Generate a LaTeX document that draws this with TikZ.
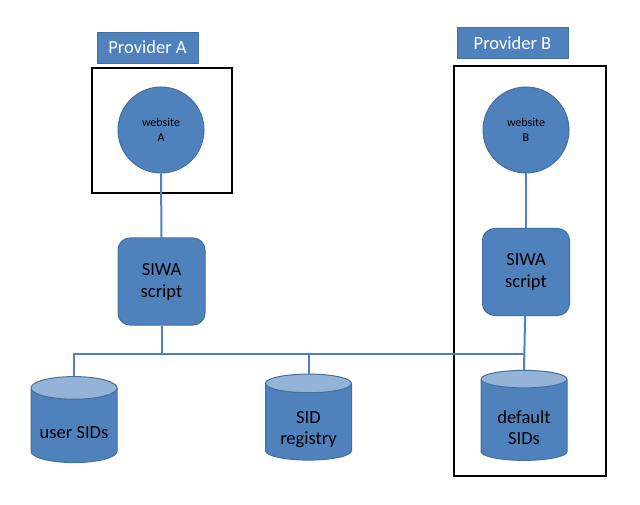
\documentclass[tikz,border=0pt]{standalone}
\usepackage{fontspec}
\setmainfont{Carlito}
\usetikzlibrary{shapes.geometric}
\definecolor{oblue}{HTML}{4F81BD}
\definecolor{oedge}{HTML}{41719C}
\definecolor{otop}{HTML}{95B3D7}
\tikzset{site/.style = {circle, fill=oblue, draw=oedge, line width=1, minimum size=86, inner sep=0,
                        align=center, font=\fontsize{12}{15.5}\selectfont}}
\tikzset{script/.style = {rectangle, rounded corners=12, fill=oblue, draw=oedge, line width=1,
                          minimum width=87, minimum height=87, inner sep=0, align=center,
                          font=\fontsize{18.5}{22}\selectfont}}
\tikzset{db/.style = {cylinder, shape border rotate=90, aspect=0.33, draw=oedge, line width=1,
                      cylinder uses custom fill, cylinder body fill=oblue, cylinder end fill=otop,
                      minimum width=86, minimum height=86, inner sep=0, align=center,
                      font=\fontsize{18.5}{22}\selectfont}}
\tikzset{provider/.style = {rectangle, fill=oblue, draw=oedge, line width=0.8, text=white,
                            minimum height=31, inner sep=0, font=\fontsize{18.5}{22}\selectfont}}
\tikzset{frame/.style = {draw=black, line width=2.6}}
\tikzset{link/.style = {draw=oblue, line width=2}}
\newcommand{\dblabel}[1]{\raisebox{-7.5pt}[\height][\depth]{#1}}

\begin{document}
\begin{tikzpicture}[x=1pt, y=-1pt]
      \useasboundingbox (0, 0) rectangle (640, 505);

      \draw [frame] (92, 68) rectangle (232, 193);
      \draw [frame] (454, 66) rectangle (606, 476);

      \node [provider, minimum width=101] (provA) at (147.5, 47.5) {Provider A};
      \node [provider, minimum width=111] (provB) at (512.5, 43) {Provider B};

      \node [site] (siteA) at (161, 130) {website\\A};
      \node [site] (siteB) at (526, 130) {website\\B};

      \node [script] (scriptA) at (161.5, 281.5) {SIWA\\script};
      \node [script] (scriptB) at (526, 272) {SIWA\\script};

      \node [db] (userSIDs) at (74, 425.5) {\dblabel{user SIDs}};
      \node [db] (registry) at (308.5, 422) {\dblabel{\shortstack{SID\\[5pt]registry}}};
      \node [db, minimum height=90] (defaultSIDs) at (524, 420) {\dblabel{\shortstack{default\\[6pt]SIDs}}};

      \coordinate (busL) at (userSIDs.top |- 0, 354);
      \coordinate (busR) at (defaultSIDs.top |- 0, 354);

      \draw [link] (siteA) -- (scriptA);
      \draw [link] (siteB) -- (scriptB);
      \draw [link] (scriptA) -- (scriptA |- busL);
      \draw [link] (userSIDs.top) -- (busL) -- (busR);
      \draw [link] (registry.top) -- (registry.top |- busL);
      \draw [link] (scriptB) -- (defaultSIDs.top);
    \end{tikzpicture}
\end{document}
